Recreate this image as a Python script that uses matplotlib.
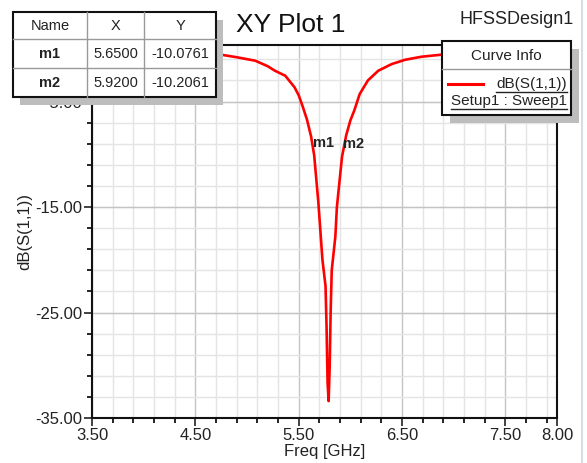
import matplotlib
matplotlib.use("Agg")
import matplotlib.pyplot as plt
import numpy as np
from matplotlib.patches import Rectangle

plt.rcParams['font.family'] = ['Liberation Sans', 'DejaVu Sans']

# ---- data ----
freq_ghz = [3.50, 3.80, 4.10, 4.40, 4.60, 4.75, 4.90, 5.08, 5.20, 5.27, 5.37,
            5.46, 5.50, 5.54, 5.58, 5.62, 5.65, 5.69, 5.73, 5.76, 5.77, 5.78,
            5.79, 5.80, 5.81, 5.82, 5.855, 5.87, 5.90, 5.92, 5.96, 6.00, 6.04,
            6.09, 6.17, 6.27, 6.40, 6.53, 6.69, 6.88, 7.10, 7.40, 7.70, 8.00]
s11_db = [-0.20, -0.25, -0.30, -0.40, -0.48, -0.56, -0.80, -1.13, -1.65, -2.08, -2.55,
          -3.65, -4.40, -5.50, -6.70, -8.30, -10.08, -14.5, -20.0, -22.5, -26.4, -31.7,
          -33.4, -30.2, -24.7, -21.0, -17.8, -15.0, -12.1, -10.21, -8.2, -6.8, -5.8,
          -4.3, -3.0, -2.08, -1.45, -1.04, -0.75, -0.56, -0.45, -0.38, -0.33, -0.30]

marker_names = ["m1", "m2"]
marker_x = [5.65, 5.92]
marker_y = [-10.0761, -10.2061]

x_major = [3.5, 4.5, 5.5, 6.5, 7.5, 8.0]
x_major_labels = ["3.50", "4.50", "5.50", "6.50", "7.50", "8.00"]
y_major = [-35, -25, -15, -5]
y_major_labels = ["-35.00", "-25.00", "-15.00", "-5.00"]

W, H = 587, 463
fig = plt.figure(figsize=(W / 100, H / 100), dpi=100)
fig.patch.set_facecolor('white')

ax_l, ax_r, ax_t, ax_b = 92, 557, 45, 418
ax = fig.add_axes([ax_l / W, (H - ax_b) / H, (ax_r - ax_l) / W, (ax_b - ax_t) / H])
ax.set_xlim(3.5, 8.0)
ax.set_ylim(-35, 0.36)

# grid
x_minor = [v for v in np.arange(3.7, 7.95, 0.2) if min(abs(v - m) for m in x_major) > 1e-6]
y_minor = [v for v in range(-33, 1, 2)]
for v in x_minor:
    ax.axvline(v, color='#e4e4e4', lw=1.0, zorder=0)
for v in x_major[:-1]:
    ax.axvline(v, color='#c4c4c4', lw=1.0, zorder=0)
for v in y_minor:
    ax.axhline(v, color='#e4e4e4', lw=1.0, zorder=0)
for v in y_major:
    ax.axhline(v, color='#c4c4c4', lw=1.0, zorder=0)

ax.plot(freq_ghz, s11_db, color='#ff0000', lw=1.9, zorder=3)

for nm, mx, my, dx in zip(marker_names, marker_x, marker_y, [-1, 1]):
    ax.annotate(nm, (mx, my), xytext=(dx, 12), textcoords='offset pixels',
                ha='left', va='center', fontsize=10.5, fontweight='bold', color='#222222', zorder=4)

ax.set_xticks(x_major)
ax.set_xticklabels(x_major_labels)
ax.set_xticks(x_minor, minor=True)
ax.set_yticks(y_major)
ax.set_yticklabels(y_major_labels)
ax.set_yticks(y_minor, minor=True)
ax.tick_params(which='major', direction='out', length=6, width=1.2, labelsize=12,
               colors='#222222', pad=1)
ax.tick_params(which='minor', direction='out', length=3.5, width=1.2)
for s in ax.spines.values():
    s.set_linewidth(1.5)
    s.set_color('#111111')

ax.set_xlabel("Freq [GHz]", fontsize=12, color='#222222', labelpad=1)
ax.set_ylabel("dB(S(1,1))", fontsize=12, color='#222222', labelpad=2)

# ---- overlay in pixel coordinates ----
ov = fig.add_axes([0, 0, 1, 1], zorder=10)
ov.set_xlim(0, W)
ov.set_ylim(H, 0)
ov.axis('off')
ov.patch.set_alpha(0)

ov.text(291, 25, "XY Plot 1", fontsize=19, ha='center', va='center', color='#111111')
ov.text(574, 20, "HFSSDesign1", fontsize=13, ha='right', va='center', color='#222222')

# marker table
tx0, ty0, tx1, ty1 = 13, 12, 216, 97
ov.add_patch(Rectangle((tx0 + 7, ty0 + 8), tx1 - tx0, ty1 - ty0, color='#bdbdbd', lw=0))
ov.add_patch(Rectangle((tx0, ty0), tx1 - tx0, ty1 - ty0, facecolor='white',
                       edgecolor='#111111', lw=1.5))
cols = [13, 87, 144, 216]
rows = [12, 39, 68, 97]
for c in cols[1:-1]:
    ov.plot([c, c], [ty0, ty1], color='#999999', lw=1)
for r in rows[1:-1]:
    ov.plot([tx0, tx1], [r, r], color='#999999', lw=1)
table_rows = [["Name", "X", "Y"]] + [[n, f"{x:.4f}", f"{y:.4f}"]
                                      for n, x, y in zip(marker_names, marker_x, marker_y)]
for i, row in enumerate(table_rows):
    yc = (rows[i] + rows[i + 1]) / 2
    for j, txt in enumerate(row):
        xc = (cols[j] + cols[j + 1]) / 2
        fw = 'bold' if (j == 0 and i > 0) else 'normal'
        ov.text(xc, yc + 0.5, txt, fontsize=10.5, ha='center', va='center',
                fontweight=fw, color='#222222')

# curve info box
cx0, cy0, cx1, cy1 = 442, 41, 571, 115
ov.add_patch(Rectangle((cx0 + 8, cy0 + 8), cx1 - cx0, cy1 - cy0, color='#bdbdbd', lw=0))
ov.add_patch(Rectangle((cx0, cy0), cx1 - cx0, cy1 - cy0, facecolor='white',
                       edgecolor='#111111', lw=1.5))
ov.plot([cx0, cx1], [69, 69], color='#999999', lw=1)
ov.text((cx0 + cx1) / 2, 56, "Curve Info", fontsize=11, ha='center', va='center', color='#222222')
ov.plot([448, 483], [84, 84], color='#ff0000', lw=2.2)
t1 = ov.text(567, 84, "dB(S(1,1))", fontsize=11, ha='right', va='center', color='#222222')
t2 = ov.text(567, 101, "Setup1 : Sweep1", fontsize=11, ha='right', va='center', color='#222222')

fig.canvas.draw()
r = fig.canvas.get_renderer()
inv = ov.transData.inverted()
for t, uy in [(t1, 92), (t2, 109)]:
    bb = t.get_window_extent(r)
    (xa, _), (xb, _) = inv.transform([[bb.x0, bb.y0], [bb.x1, bb.y1]])
    ov.plot([xa, xb], [uy, uy], color='#222222', lw=1)

# faint right-edge border
ov.plot([582, 582], [0, H], color='#d5dde5', lw=1.5)

fig.savefig("out.png", dpi=100, facecolor='white')
